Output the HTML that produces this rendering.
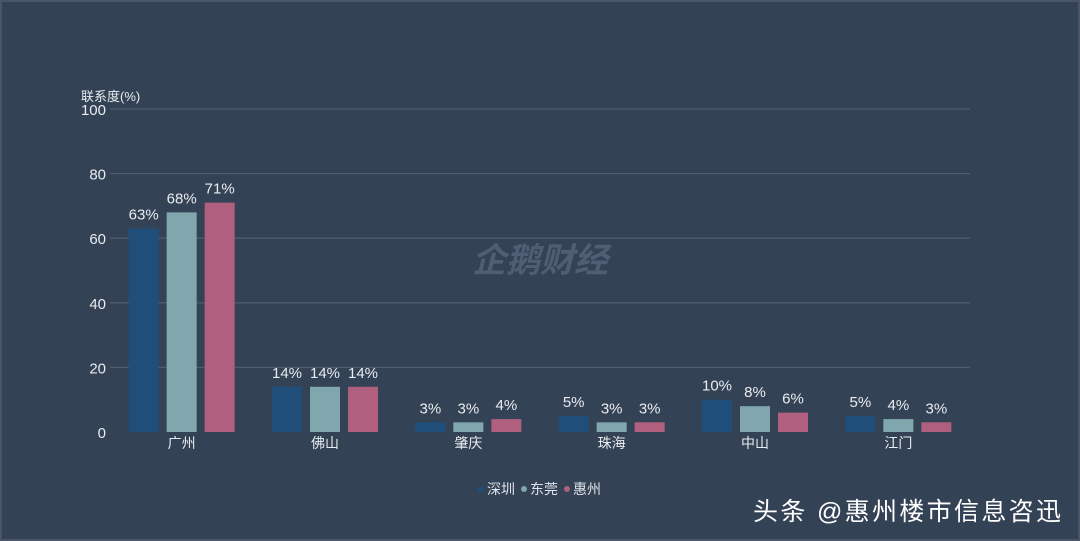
<!DOCTYPE html>
<html><head><meta charset="utf-8"><style>
html,body{margin:0;padding:0;background:#344255;}
svg{display:block;font-family:"Liberation Sans","Noto Sans CJK SC",sans-serif;}
</style></head><body>
<svg id="c" width="1080" height="541">
<rect x="0" y="0" width="1080" height="541" fill="#344255"/>
<rect x="1" y="1" width="1078" height="539" fill="none" stroke="#4a5668" stroke-width="2"/>
<g id="grid"></g><g id="bars"></g><g id="labels"></g>
<text x="81" y="101" fill="#e8ecf0" font-size="13">联系度(%)</text>
<text x="540" y="272" fill="#5a6a80" font-size="34" font-weight="bold" font-style="italic" text-anchor="middle" opacity="0.7">企鹅财经</text>
<g>
<circle cx="481" cy="489" r="3" fill="#1f4e7a"/>
<text x="487" y="494" fill="#e0e4ea" font-size="14">深圳</text>
<circle cx="524" cy="489" r="3" fill="#7fa7ad"/>
<text x="530" y="494" fill="#e0e4ea" font-size="14">东莞</text>
<circle cx="567" cy="489" r="3" fill="#b0607e"/>
<text x="573" y="494" fill="#e0e4ea" font-size="14">惠州</text>
</g>
<text x="753" y="520" fill="#ffffff" font-size="25" textLength="308">头条 @惠州楼市信息咨迅</text>
</svg>
<script>
const categories=["广州","佛山","肇庆","珠海","中山","江门"];
const shenzhen=[63,14,3,5,10,5];
const dongguan=[68,14,3,3,8,4];
const huizhou=[71,14,4,3,6,3];
const yTicks=[0,20,40,60,80,100];
const NS="http://www.w3.org/2000/svg";
const y0=432,y1=109,xl=110,xr=970;
function yS(v){return y0-(v/100)*(y0-y1);}
const step=(xr-xl)/categories.length;
function xC(i){return xl+step*(i+0.5);}
function mk(t,a){const e=document.createElementNS(NS,t);for(const k in a)e.setAttribute(k,a[k]);return e;}
const grid=document.getElementById('grid'),bars=document.getElementById('bars'),labels=document.getElementById('labels');
yTicks.forEach(t=>{
  if(t>0){const l=mk('line',{x1:xl,y1:yS(t),x2:xr,y2:yS(t),stroke:'#4d5c70','stroke-width':1.3});
  
  
  grid.appendChild(l);}
  const tx=mk('text',{x:106,y:yS(t)+6,fill:'#e8ecf0','font-size':15,'text-anchor':'end'});
  tx.textContent=t;
  
  
  labels.appendChild(tx);
});
const series=[[shenzhen,'#1f4e7a','shenzhen'],[dongguan,'#7fa7ad','dongguan'],[huizhou,'#b0607e','huizhou']];
const bw=30;
categories.forEach((c,i)=>{
  const cx=xC(i);
  series.forEach(([vals,col,nm],j)=>{
    const x=cx+(j-1)*38-bw/2, v=vals[i];
    const r=mk('rect',{x:x,y:yS(v),width:bw,height:y0-yS(v),fill:col});
    
    
    bars.appendChild(r);
    const t=mk('text',{x:x+bw/2,y:yS(v)-9,fill:'#e8ecf0','font-size':15,'text-anchor':'middle'});
    t.textContent=v+'%';
    
    
    labels.appendChild(t);
  });
  const t=mk('text',{x:cx,y:448,fill:'#e8ecf0','font-size':14,'text-anchor':'middle'});
  t.textContent=c;
  
  
  labels.appendChild(t);
});
</script>
</body></html>
